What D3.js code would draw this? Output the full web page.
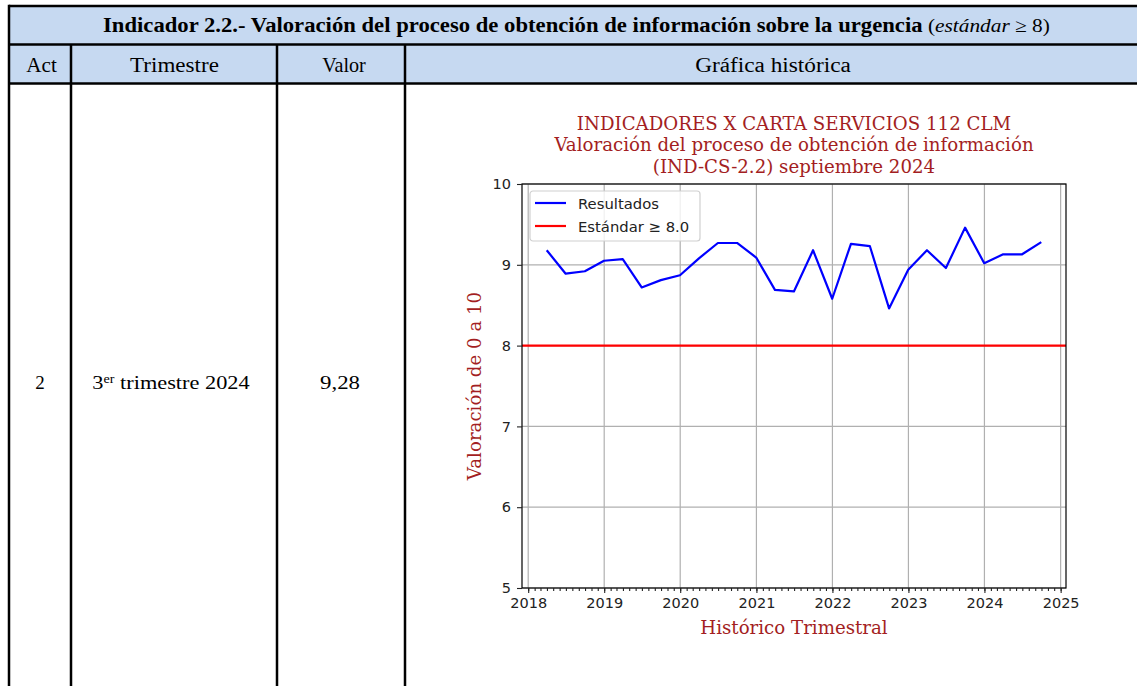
<!DOCTYPE html>
<html>
<head>
<meta charset="utf-8">
<script src="https://cdn.jsdelivr.net/npm/d3@7"></script>
<style>
  body { margin: 0; background: #fff; }
  svg { display: block; }
</style>
</head>
<body>
<div id="chart"></div>
<script>
// data
const quarterEnds = ["2018-03-31","2018-06-30","2018-09-30","2018-12-31",
  "2019-03-31","2019-06-30","2019-09-30","2019-12-31",
  "2020-03-31","2020-06-30","2020-09-30","2020-12-31",
  "2021-03-31","2021-06-30","2021-09-30","2021-12-31",
  "2022-03-31","2022-06-30","2022-09-30","2022-12-31",
  "2023-03-31","2023-06-30","2023-09-30","2023-12-31",
  "2024-03-31","2024-06-30","2024-09-30"]
const resultados = [9.18, 8.89, 8.92, 9.05, 9.07, 8.72, 8.81, 8.87,
  9.08, 9.27, 9.27, 9.09, 8.69, 8.67, 9.18, 8.58,
  9.26, 9.23, 8.46, 8.94, 9.18, 8.96, 9.46, 9.02,
  9.13, 9.13, 9.28]
const estandar = 8.0
const yTicks = [5, 6, 7, 8, 9, 10]
const columnas = ["Act", "Trimestre", "Valor", "Gráfica histórica"]
const fila = ["2", "3er trimestre 2024", "9,28"]
const tituloTabla = "Indicador 2.2.- Valoración del proceso de obtención de información sobre la urgencia"
const tituloGrafica = ["INDICADORES X CARTA SERVICIOS 112 CLM",
  "Valoración del proceso de obtención de información",
  "(IND-CS-2.2) septiembre 2024"]

const W = 1137, H = 686
const svg = d3.select("#chart").append("svg").attr("width", W).attr("height", H)

// squeeze a text horizontally to a wanted width, keeping its anchor point
function squeeze(sel, target, ax) {
  const w = sel.node().getBBox().width
  sel.attr("transform", `translate(${ax},0) scale(${target / w},1) translate(${-ax},0)`)
}

// ---------- table ----------
const colX = [9, 71, 277, 405, 1142]
const rowY = [6, 44.5, 83.5]
const serif = "'Liberation Serif', 'DejaVu Serif', serif"
const headBlue = "#c6d9f1"

svg.append("rect").attr("x", colX[0]).attr("y", rowY[0])
  .attr("width", colX[4] - colX[0]).attr("height", rowY[2] - rowY[0])
  .attr("fill", headBlue)

const t1 = svg.append("text").attr("x", 103).attr("y", 32)
  .attr("font-family", serif).attr("font-size", 20).attr("font-weight", "bold")
  .attr("fill", "#000").text(tituloTabla)
squeeze(t1, 820, 103)
const t2 = svg.append("text").attr("x", 928).attr("y", 32)
  .attr("font-family", serif).attr("font-size", 19).attr("fill", "#000")
t2.append("tspan").text("(")
t2.append("tspan").attr("font-style", "italic").text("estándar")
t2.append("tspan").text(" ≥ 8)")
squeeze(t2, 122, 928)

const headPos = [[41.5, 31], [174.5, 89], [344, 44], [773, 156]]
columnas.forEach((c, i) => {
  const t = svg.append("text")
    .attr("x", headPos[i][0]).attr("y", 72.5)
    .attr("text-anchor", "middle").attr("font-family", serif)
    .attr("font-size", 20).attr("fill", "#000").text(c)
  squeeze(t, headPos[i][1], headPos[i][0])
})

// body row
svg.append("text").attr("x", 40).attr("y", 389)
  .attr("text-anchor", "middle").attr("font-family", serif).attr("font-size", 19)
  .text(fila[0])
const tri = svg.append("text").attr("x", 171).attr("y", 389)
  .attr("text-anchor", "middle").attr("font-family", serif).attr("font-size", 19)
tri.append("tspan").text(fila[1].slice(0, 1))
tri.append("tspan").attr("font-size", 12).attr("dy", -6).text(fila[1].slice(1, 3))
tri.append("tspan").attr("dy", 6).text(fila[1].slice(3))
squeeze(tri, 158, 171)
const b2 = svg.append("text").attr("x", 340).attr("y", 389)
  .attr("text-anchor", "middle").attr("font-family", serif).attr("font-size", 19)
  .text(fila[2])
squeeze(b2, 40, 340)

// borders
const border = svg.append("g").attr("stroke", "#000").attr("stroke-width", 2.5)
rowY.forEach(yy => {
  border.append("line").attr("x1", colX[0]).attr("x2", colX[4]).attr("y1", yy).attr("y2", yy)
})
border.append("line").attr("x1", colX[0]).attr("x2", colX[0]).attr("y1", rowY[0] - 1.25).attr("y2", H)
colX.slice(1, 4).forEach(xx => {
  border.append("line").attr("x1", xx).attr("x2", xx).attr("y1", rowY[1]).attr("y2", H)
})

// ---------- chart ----------
const plot = { left: 522, right: 1066, top: 184, bottom: 588 }
const dark = "#a31e22"
const mplSerif = "'DejaVu Serif', serif"
const mplSans = "'DejaVu Sans', sans-serif"
const parse = d3.timeParse("%Y-%m-%d")
const dates = quarterEnds.map(parse)
const dataset = dates.map((d, i) => ({ date: d, value: resultados[i] }))

// matplotlib style 5% margins on x
const tA = dates[0].getTime(), tB = dates[dates.length - 1].getTime()
const pad = (tB - tA) * 0.05
const x = d3.scaleTime()
  .domain([new Date(tA - pad), new Date(tB + pad)])
  .range([plot.left, plot.right])
const y = d3.scaleLinear().domain([5, 10]).range([plot.bottom, plot.top])

const years = d3.timeYear.range(new Date(2018, 0, 1), new Date(2025, 0, 2))
const months = d3.timeMonth.range(x.domain()[0], x.domain()[1])

const chart = svg.append("g")

// grid
chart.append("g").selectAll("line").data(years).join("line")
  .attr("x1", d => x(d)).attr("x2", d => x(d))
  .attr("y1", plot.top).attr("y2", plot.bottom)
  .attr("stroke", "#b0b0b0").attr("stroke-width", 1.2)
chart.append("g").selectAll("line").data(yTicks).join("line")
  .attr("x1", plot.left).attr("x2", plot.right)
  .attr("y1", d => y(d)).attr("y2", d => y(d))
  .attr("stroke", "#b0b0b0").attr("stroke-width", 1.2)

// standard line
chart.append("line")
  .attr("x1", plot.left).attr("x2", plot.right)
  .attr("y1", y(estandar)).attr("y2", y(estandar))
  .attr("stroke", "#ff0000").attr("stroke-width", 2.2)

// results line
const line = d3.line().x(d => x(d.date)).y(d => y(d.value))
chart.append("path").datum(dataset)
  .attr("d", line).attr("fill", "none")
  .attr("stroke", "#0000ff").attr("stroke-width", 2.2)
  .attr("stroke-linejoin", "round")

// frame
chart.append("rect")
  .attr("x", plot.left).attr("y", plot.top)
  .attr("width", plot.right - plot.left).attr("height", plot.bottom - plot.top)
  .attr("fill", "none").attr("stroke", "#000").attr("stroke-width", 1.2)

// axes
const xAxis = chart.append("g").attr("transform", `translate(0,${plot.bottom})`)
  .call(d3.axisBottom(x).tickValues(years).tickFormat(d3.timeFormat("%Y")).tickSizeOuter(0).tickSize(5).tickPadding(5))
xAxis.append("g").call(d3.axisBottom(x).tickValues(months).tickFormat("").tickSizeOuter(0).tickSize(3))
const yAxis = chart.append("g").attr("transform", `translate(${plot.left},0)`)
  .call(d3.axisLeft(y).tickValues(yTicks).tickFormat(d3.format("d")).tickSizeOuter(0).tickSize(5).tickPadding(6))
;[xAxis, yAxis].forEach(a => {
  a.selectAll(".domain").remove()
  a.selectAll("text").attr("font-family", mplSans).attr("font-size", 14.5).attr("fill", "#222")
  a.selectAll("line").attr("stroke", "#222").attr("stroke-width", 1.1)
})

// titles
tituloGrafica.forEach((t, i) => {
  chart.append("text")
    .attr("x", (plot.left + plot.right) / 2).attr("y", 130 + i * 21.3)
    .attr("text-anchor", "middle").attr("font-family", mplSerif)
    .attr("font-size", 18.2).attr("fill", dark).text(t)
})
chart.append("text")
  .attr("x", (plot.left + plot.right) / 2).attr("y", 634)
  .attr("text-anchor", "middle").attr("font-family", mplSerif)
  .attr("font-size", 18.2).attr("fill", dark).text("Histórico Trimestral")
chart.append("text")
  .attr("transform", `translate(481,${(plot.top + plot.bottom) / 2}) rotate(-90)`)
  .attr("text-anchor", "middle").attr("font-family", mplSerif)
  .attr("font-size", 18.2).attr("fill", dark).text("Valoración de 0 a 10")

// legend
const legend = chart.append("g").attr("transform", `translate(${plot.left + 8},${plot.top + 7})`)
legend.append("rect").attr("width", 170).attr("height", 50).attr("rx", 3)
  .attr("fill", "#fff").attr("fill-opacity", 0.8)
  .attr("stroke", "#d0d0d0").attr("stroke-width", 1.2)
const items = [{ label: "Resultados", color: "#0000ff" }, { label: "Estándar ≥ 8.0", color: "#ff0000" }]
items.forEach((it, i) => {
  const g = legend.append("g").attr("transform", `translate(5,${12 + i * 23})`)
  g.append("line").attr("x1", 0).attr("x2", 31).attr("stroke", it.color).attr("stroke-width", 2.2)
  g.append("text").attr("x", 43).attr("y", 6).attr("font-family", mplSans)
    .attr("font-size", 14.8).attr("fill", "#222").text(it.label)
})
</script>
</body>
</html>
